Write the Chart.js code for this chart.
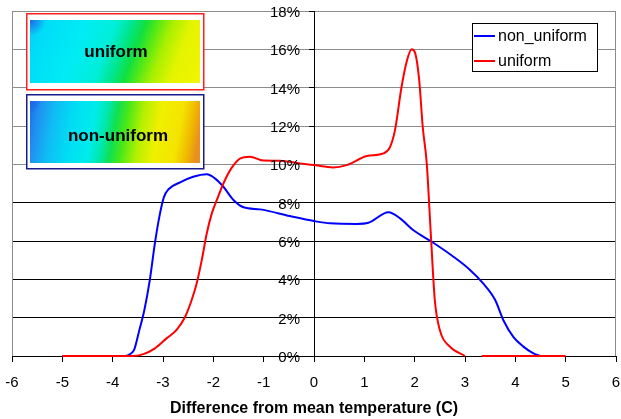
<!DOCTYPE html>
<html>
<head>
<meta charset="utf-8">
<script src="https://cdn.jsdelivr.net/npm/chart.js@4.4.1/dist/chart.umd.min.js"></script>
<style>
  html, body { margin: 0; padding: 0; background: #fff; }
  #wrap { width: 621px; height: 419px; }
</style>
</head>
<body>
<div id="wrap"><canvas id="chart" width="621" height="419"></canvas></div>
<script>
  // values (x in C, y in %)
  const nonUniformX = [-5, -4, -3.75, -3.65, -3.57, -3.47, -3.37, -3.26, -3.16, -3.07, -2.98, -2.89, -2.66, -2.40, -2.13, -1.97, -1.80, -1.60, -1.40, -1.07, -0.48, 0, 0.32, 0.85, 1.08, 1.48, 1.71, 1.97, 2.34, 2.77, 3.10, 3.36, 3.60, 3.76, 3.96, 4.16, 4.35, 4.5];
  const nonUniformY = [0, 0, 0, 0.1, 0.35, 1.35, 2.4, 4.0, 5.9, 7.3, 8.3, 8.7, 9.06, 9.35, 9.48, 9.27, 8.83, 8.14, 7.76, 7.65, 7.3, 7.04, 6.92, 6.89, 6.95, 7.5, 7.18, 6.57, 5.96, 5.18, 4.49, 3.79, 2.92, 1.88, 1.0, 0.49, 0.15, 0];

  const uniformX = [-5, -4, -3.6, -3.39, -3.16, -2.93, -2.73, -2.56, -2.43, -2.33, -2.23, -2.13, -2.03, -1.93, -1.80, -1.64, -1.47, -1.27, -1.01, -0.68, -0.28, 0, 0.38, 0.65, 1.05, 1.38, 1.51, 1.61, 1.74, 1.85, 1.94, 2.01, 2.09, 2.16, 2.24, 2.32, 2.40, 2.50, 2.70, 3.0, 3.17, 3.33, 4, 5];
  const uniformY = [0, 0, 0, 0.1, 0.4, 0.92, 1.36, 2.05, 2.92, 3.79, 5.0, 6.4, 7.44, 8.14, 9.0, 9.8, 10.3, 10.4, 10.2, 10.19, 10.05, 9.96, 9.84, 9.96, 10.43, 10.57, 10.9, 11.8, 14.05, 15.44, 16.0, 15.8, 14.4, 11.96, 10.05, 6.4, 2.92, 1.36, 0.49, 0, null, 0, 0, 0];

  const xTicks = [-6, -5, -4, -3, -2, -1, 0, 1, 2, 3, 4, 5, 6];
  const yTicks = [0, 2, 4, 6, 8, 10, 12, 14, 16, 18];
  const seriesNames = ['non_uniform', 'uniform'];
  const xTitle = 'Difference from mean temperature (C)';

  const FONT = '"Liberation Sans", Arial, sans-serif';
  const toPoints = (xs, ys) => xs.map((x, i) => ({ x: x, y: ys[i] }));

  // plot frame: grey left/right edges
  const framePlugin = {
    id: 'frame',
    beforeDatasetsDraw(chart) {
      const { ctx, chartArea: a } = chart;
      ctx.save();
      ctx.strokeStyle = '#8c8c8c';
      ctx.lineWidth = 1;
      ctx.beginPath();
      ctx.moveTo(Math.round(a.left) + 0.5, a.top);
      ctx.lineTo(Math.round(a.left) + 0.5, a.bottom);
      ctx.moveTo(Math.round(a.right) - 0.5, a.top);
      ctx.lineTo(Math.round(a.right) - 0.5, a.bottom);
      ctx.stroke();
      ctx.restore();
    }
  };

  // y labels sit left of the axis that crosses at x = 0
  const yLabelPlugin = {
    id: 'yLabels',
    afterDraw(chart) {
      const { ctx, scales } = chart;
      const ax = scales.x.getPixelForValue(0);
      ctx.save();
      ctx.fillStyle = '#000';
      ctx.font = '15px ' + FONT;
      ctx.textAlign = 'right';
      ctx.textBaseline = 'middle';
      yTicks.forEach(v => {
        ctx.fillText(v + '%', ax - 14, scales.y.getPixelForValue(v) + 2);
      });
      ctx.restore();
    }
  };

  function drawMap(ctx, x, y, w, h, stops, slant, corner) {
    const g = ctx.createLinearGradient(x, y, x + w, y + slant);
    stops.forEach(s => g.addColorStop(s[0], s[1]));
    ctx.fillStyle = g;
    ctx.fillRect(x, y, w, h);
    const r = ctx.createRadialGradient(x, y, 0, x, y, corner);
    r.addColorStop(0, 'rgba(30,100,230,0.95)');
    r.addColorStop(1, 'rgba(30,100,230,0)');
    ctx.fillStyle = r;
    ctx.fillRect(x, y, w, h);
  }

  // the two small temperature maps in the top left
  const insetPlugin = {
    id: 'insets',
    afterDraw(chart) {
      const ctx = chart.ctx;
      ctx.save();
      // uniform
      ctx.fillStyle = '#fff';
      ctx.fillRect(26, 13, 178, 77);
      drawMap(ctx, 30, 20, 170, 63, [
        [0, '#10c4f6'], [0.08, '#00dcf8'], [0.3, '#00ecf4'], [0.45, '#00eed8'],
        [0.53, '#00e690'], [0.6, '#10e040'], [0.66, '#50e818'], [0.74, '#a8f000'],
        [0.84, '#e4f400'], [1, '#f4f400']
      ], 64, 16);
      ctx.strokeStyle = '#ff2020';
      ctx.lineWidth = 1.5;
      ctx.strokeRect(26.75, 13.75, 177, 76);
      // non-uniform
      ctx.fillStyle = '#fff';
      ctx.fillRect(26, 94, 178, 75);
      drawMap(ctx, 30, 101, 170, 62, [
        [0, '#1870e8'], [0.06, '#2090f0'], [0.15, '#10bcf4'], [0.26, '#00dcf4'],
        [0.38, '#00ecec'], [0.45, '#00e8b0'], [0.51, '#10e050'], [0.57, '#48e818'],
        [0.66, '#b4f000'], [0.76, '#f0f000'], [0.88, '#f4e400'], [0.95, '#f0b800'],
        [1, '#e89020']
      ], 30, 12);
      ctx.strokeStyle = '#1a1a8c';
      ctx.strokeRect(26.75, 94.75, 177, 74);
      // labels
      ctx.fillStyle = '#000';
      ctx.font = 'bold 17px ' + FONT;
      ctx.textAlign = 'center';
      ctx.textBaseline = 'middle';
      ctx.fillText('uniform', 116, 52);
      ctx.fillText('non-uniform', 118, 136);
      ctx.restore();
    }
  };

  // boxed legend top right
  const legendPlugin = {
    id: 'boxLegend',
    afterDraw(chart) {
      const ctx = chart.ctx;
      ctx.save();
      ctx.fillStyle = '#fff';
      ctx.fillRect(472, 23, 125, 48);
      ctx.strokeStyle = '#000';
      ctx.lineWidth = 1;
      ctx.strokeRect(472.5, 23.5, 125, 48);
      ctx.font = '16px ' + FONT;
      ctx.textBaseline = 'middle';
      ctx.textAlign = 'left';
      chart.data.datasets.forEach((ds, i) => {
        const y = 36 + i * 25;
        ctx.strokeStyle = ds.borderColor;
        ctx.lineWidth = 2;
        ctx.beginPath();
        ctx.moveTo(474, y);
        ctx.lineTo(495, y);
        ctx.stroke();
        ctx.fillStyle = '#000';
        ctx.fillText(ds.label, 498, y + 1);
      });
      ctx.restore();
    }
  };

  new Chart(document.getElementById('chart'), {
    type: 'line',
    data: {
      datasets: [
        {
          label: seriesNames[0],
          data: toPoints(nonUniformX, nonUniformY),
          borderColor: '#0000ff',
          borderWidth: 2,
          pointRadius: 0,
          cubicInterpolationMode: 'monotone',
          clip: false,
          order: 1
        },
        {
          label: seriesNames[1],
          data: toPoints(uniformX, uniformY),
          borderColor: '#ff0000',
          borderWidth: 2,
          pointRadius: 0,
          cubicInterpolationMode: 'monotone',
          spanGaps: false,
          clip: false,
          order: 0
        }
      ]
    },
    options: {
      responsive: false,
      animation: false,
      events: [],
      layout: { padding: { left: 12, right: 5, top: 11, bottom: 0 } },
      plugins: { legend: { display: false }, tooltip: { enabled: false } },
      scales: {
        x: {
          type: 'linear',
          min: -6,
          max: 6,
          afterFit(scale) {
            scale.height = 63;
            scale.paddingLeft = 0;
            scale.paddingRight = 0;
          },
          afterBuildTicks(scale) { scale.ticks = xTicks.map(v => ({ value: v })); },
          grid: { drawOnChartArea: false, drawTicks: true, tickLength: 6, color: '#000' },
          border: { display: true, color: '#000' },
          ticks: { color: '#000', padding: 12, maxRotation: 0, font: { family: FONT, size: 15 } },
          title: {
            display: true,
            text: xTitle,
            color: '#000',
            padding: { top: 0, bottom: 1 },
            font: { family: FONT, size: 16, weight: 'bold' }
          }
        },
        y: {
          position: { x: 0 },
          min: 0,
          max: 18,
          afterBuildTicks(scale) { scale.ticks = yTicks.map(v => ({ value: v })); },
          grid: {
            color: c => (c.tick && c.tick.value >= 10 ? '#8c8c8c' : '#000'),
            tickColor: '#000',
            tickLength: 5
          },
          border: { display: true, color: '#000' },
          ticks: { display: false }
        }
      }
    },
    plugins: [framePlugin, yLabelPlugin, insetPlugin, legendPlugin]
  });
</script>
</body>
</html>
